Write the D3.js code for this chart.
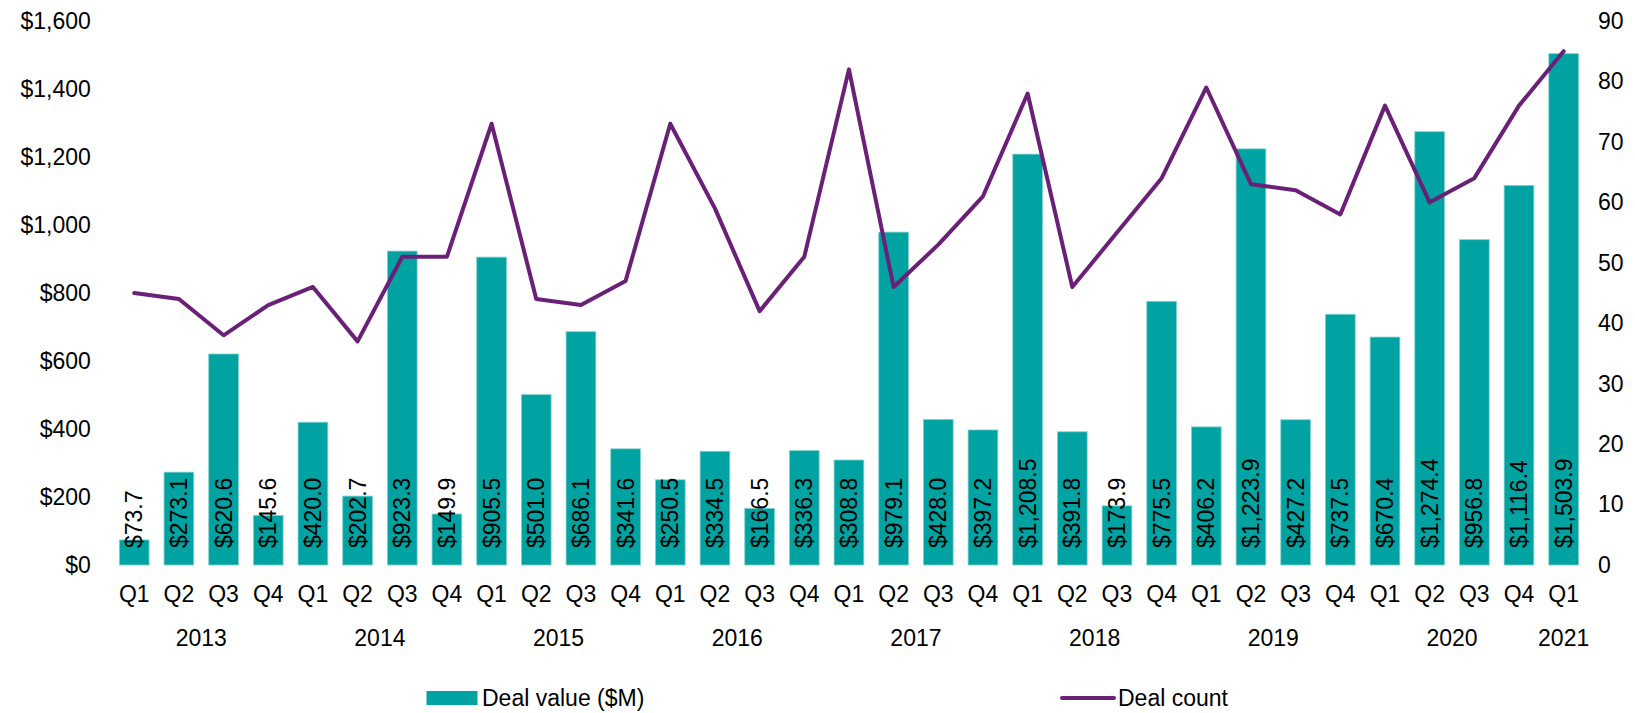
<!DOCTYPE html>
<html>
<head>
<meta charset="utf-8">
<script src="https://cdn.jsdelivr.net/npm/d3@7/dist/d3.min.js"></script>
<style>
  html, body { margin: 0; padding: 0; background: #fff; }
  svg { display: block; font-family: "Liberation Sans", Arial, sans-serif; }
</style>
</head>
<body>
<svg id="chart" width="1635" height="713"></svg>
<script>
// Quarterly periods, Q1 2013 through Q1 2021
const periods = [
  "2013 Q1","2013 Q2","2013 Q3","2013 Q4",
  "2014 Q1","2014 Q2","2014 Q3","2014 Q4",
  "2015 Q1","2015 Q2","2015 Q3","2015 Q4",
  "2016 Q1","2016 Q2","2016 Q3","2016 Q4",
  "2017 Q1","2017 Q2","2017 Q3","2017 Q4",
  "2018 Q1","2018 Q2","2018 Q3","2018 Q4",
  "2019 Q1","2019 Q2","2019 Q3","2019 Q4",
  "2020 Q1","2020 Q2","2020 Q3","2020 Q4",
  "2021 Q1"
];

// Deal value ($M) per quarter
const dealValue = [
  73.7, 273.1, 620.6, 145.6,
  420.0, 202.7, 923.3, 149.9,
  905.5, 501.0, 686.1, 341.6,
  250.5, 334.5, 166.5, 336.3,
  308.8, 979.1, 428.0, 397.2,
  1208.5, 391.8, 173.9, 775.5,
  406.2, 1223.9, 427.2, 737.5,
  670.4, 1274.4, 956.8, 1116.4,
  1503.9
];

// Deal count per quarter
const dealCount = [
  45, 44, 38, 43,
  46, 37, 51, 51,
  73, 44, 43, 47,
  73, 59, 42, 51,
  82, 46, 53, 61,
  78, 46, 55, 64,
  79, 63, 62, 58,
  76, 60, 64, 76,
  85
];

// Axis ticks
const valueTicks = [0, 200, 400, 600, 800, 1000, 1200, 1400, 1600];
const countTicks = [0, 10, 20, 30, 40, 50, 60, 70, 80, 90];

const seriesNames = ["Deal value ($M)", "Deal count"];

const teal = "#00A3A1";
const purple = "#6B2078";
const fontSize = 23;

const svg = d3.select("#chart");

const plotLeft = 111.9, plotRight = 1586, plotTop = 21, plotBottom = 565;
const gap = 0.335;

const x = d3.scaleBand()
  .domain(d3.range(periods.length))
  .range([plotLeft, plotRight])
  .paddingInner(gap)
  .paddingOuter(gap / 2);

const yValue = d3.scaleLinear().domain([0, 1600]).range([plotBottom, plotTop]);
const yCount = d3.scaleLinear().domain([0, 90]).range([plotBottom, plotTop]);

const cx = i => x(i) + x.bandwidth() / 2;

// Left axis ($M)
const leftAxis = svg.append("g")
  .attr("transform", `translate(${plotLeft},0)`)
  .call(d3.axisLeft(yValue)
    .tickValues(valueTicks)
    .tickSize(0)
    .tickPadding(21)
    .tickFormat(d => "$" + d3.format(",")(d)));
leftAxis.select(".domain").remove();
leftAxis.selectAll("text")
  .attr("font-size", fontSize)
  .attr("font-family", "Liberation Sans, Arial, sans-serif")
  .attr("fill", "#000");

// Right axis (count)
const rightAxis = svg.append("g")
  .attr("transform", `translate(${plotRight},0)`)
  .call(d3.axisRight(yCount)
    .tickValues(countTicks)
    .tickSize(0)
    .tickPadding(12));
rightAxis.select(".domain").remove();
rightAxis.selectAll("text")
  .attr("font-size", fontSize)
  .attr("font-family", "Liberation Sans, Arial, sans-serif")
  .attr("fill", "#000");

// Bars
svg.append("g")
  .selectAll("rect")
  .data(dealValue)
  .join("rect")
  .attr("x", (d, i) => x(i))
  .attr("width", x.bandwidth())
  .attr("y", d => yValue(d))
  .attr("height", d => yValue(0) - yValue(d))
  .attr("fill", teal)
  .attr("stroke", "#7fd0ce")
  .attr("stroke-width", 0.8);

// Value labels, rotated, sitting at the bar base
svg.append("g")
  .selectAll("text")
  .data(dealValue)
  .join("text")
  .attr("transform", (d, i) => `translate(${cx(i)},${plotBottom - 17}) rotate(-90)`)
  .attr("dy", "0.35em")
  .attr("text-anchor", "start")
  .attr("font-size", fontSize)
  .attr("fill", "#000")
  .text(d => "$" + d3.format(",.1f")(d));

// Deal count line
const line = d3.line()
  .x((d, i) => cx(i))
  .y(d => yCount(d));

svg.append("path")
  .datum(dealCount)
  .attr("d", line)
  .attr("fill", "none")
  .attr("stroke", purple)
  .attr("stroke-width", 4)
  .attr("stroke-linejoin", "round")
  .attr("stroke-linecap", "round");

// Category axis: quarter row
svg.append("g")
  .selectAll("text")
  .data(periods)
  .join("text")
  .attr("x", (d, i) => cx(i))
  .attr("y", 594)
  .attr("dy", "0.35em")
  .attr("text-anchor", "middle")
  .attr("font-size", fontSize)
  .attr("fill", "#000")
  .text(d => d.split(" ")[1]);

// Category axis: year row, centred under each year's quarters
const yearGroups = d3.groups(periods.map((p, i) => ({ year: p.split(" ")[0], i })), d => d.year);
svg.append("g")
  .selectAll("text")
  .data(yearGroups)
  .join("text")
  .attr("x", ([, items]) => (cx(items[0].i) + cx(items[items.length - 1].i)) / 2)
  .attr("y", 638)
  .attr("dy", "0.35em")
  .attr("text-anchor", "middle")
  .attr("font-size", fontSize)
  .attr("fill", "#000")
  .text(([year]) => year);

// Legend
const legend = svg.append("g");
legend.append("rect")
  .attr("x", 426.5).attr("y", 691)
  .attr("width", 51).attr("height", 14)
  .attr("fill", teal);
legend.append("text")
  .attr("x", 482).attr("y", 698)
  .attr("dy", "0.35em")
  .attr("font-size", fontSize)
  .text(seriesNames[0]);
legend.append("line")
  .attr("x1", 1062).attr("x2", 1114)
  .attr("y1", 698).attr("y2", 698)
  .attr("stroke", purple)
  .attr("stroke-width", 4)
  .attr("stroke-linecap", "round");
legend.append("text")
  .attr("x", 1118).attr("y", 698)
  .attr("dy", "0.35em")
  .attr("font-size", fontSize)
  .text(seriesNames[1]);
</script>
</body>
</html>
